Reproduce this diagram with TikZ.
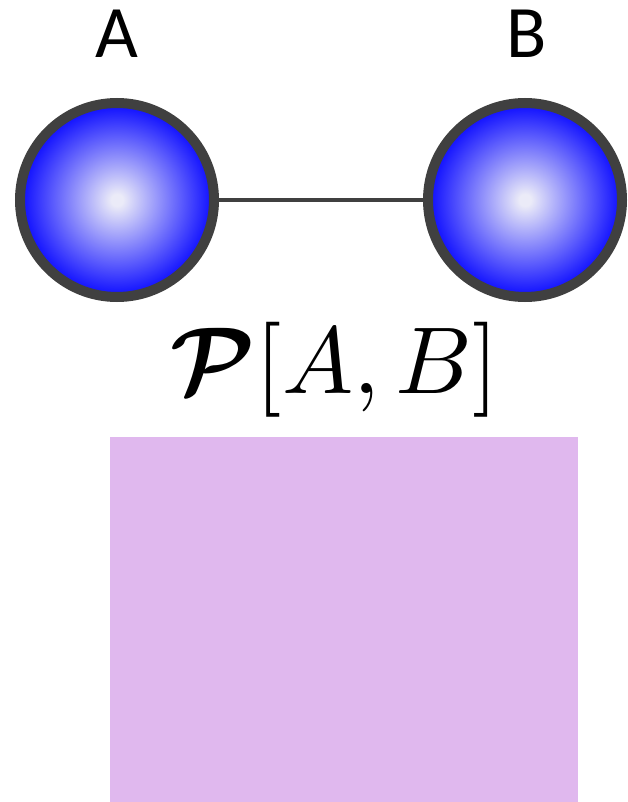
\documentclass[tikz,border=0pt]{standalone}
\usepackage{fontspec}
\usepackage{amsmath,bm}
\newfontfamily\labelfont{Carlito}
\definecolor{rim}{HTML}{404040}
\definecolor{boxfill}{HTML}{E0B8EE}
\definecolor{ballblue}{RGB}{20,20,255}
\definecolor{ballcore}{RGB}{235,235,248}
\pgfdeclareradialshading{ballshade}{\pgfpoint{0bp}{0bp}}{color(0bp)=(ballcore); color(1.5bp)=(ballcore); color(24bp)=(ballblue); color(50bp)=(ballblue)}
\tikzset{
  atom/.style={circle, draw=rim, line width=10pt, minimum size=194pt, inner sep=0pt, shading=ballshade},
  bond/.style={draw=rim, line width=4pt},
  atomlabel/.style={font=\labelfont\fontsize{74}{88}\selectfont, anchor=base, inner sep=0pt},
  formula/.style={anchor=base, inner sep=0pt}
}
\begin{document}
\begin{tikzpicture}[x=1pt,y=-1pt]
\useasboundingbox (0,0) rectangle (628,802);
\node[atom] (a) at (117,200) {};
\node[atom] (b) at (525,200) {};
\draw[bond] (a) -- (b);
\node[atomlabel] (la) at (117,58) {A};
\node[atomlabel] (lb) at (527,58) {B};
\node[formula] (f) at (335,393) {\scalebox{9.5}{$\boldsymbol{\mathcal{P}}[A,B]$}};
\fill[boxfill] (110,437) rectangle (578,802);
\end{tikzpicture}
\end{document}
